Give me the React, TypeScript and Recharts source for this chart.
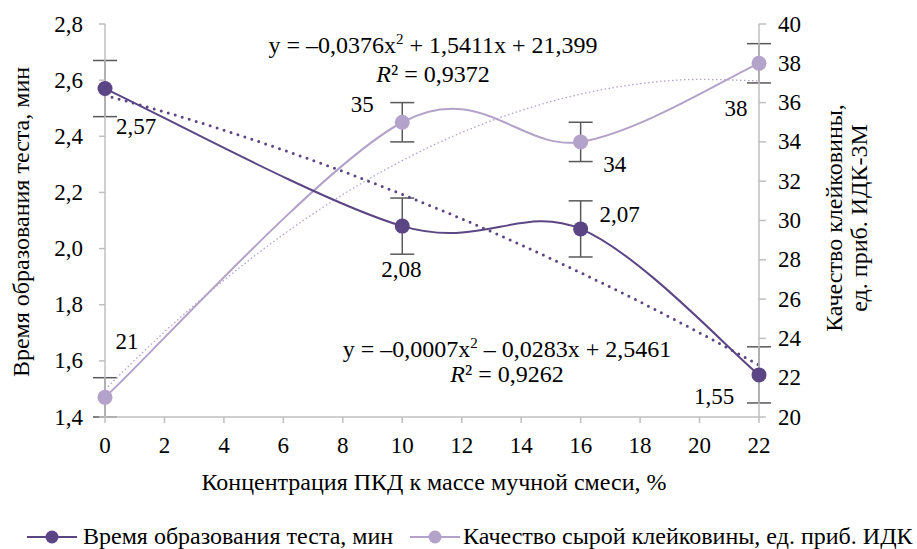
import React from "react";
import {
  ComposedChart,
  Line,
  XAxis,
  YAxis,
  ErrorBar,
  LabelList,
} from "recharts";

// concentration of ПКД, % (x values of the measured points)
const concentrations = [0, 10, 16, 22];
// dough formation time, min (left axis)
const doughTime = [2.57, 2.08, 2.07, 1.55];
const doughTimeErr = [0.1, 0.1, 0.1, 0.1];
// raw gluten quality, ИДК units (right axis)
const glutenQuality = [21, 35, 34, 38];
const glutenQualityErr = [1, 1, 1, 1];

// polynomial trend lines
const trendX = [0, 2, 4, 6, 8, 10, 12, 14, 16, 18, 20, 22];
const doughTimeTrend = [2.546, 2.487, 2.422, 2.351, 2.275, 2.193, 2.106, 2.013, 1.914, 1.81, 1.7, 1.585];
const glutenTrend = [21.4, 24.33, 26.96, 29.29, 31.32, 33.05, 34.48, 35.6, 36.43, 36.96, 37.18, 37.1];

const xTicks = [0, 2, 4, 6, 8, 10, 12, 14, 16, 18, 20, 22];
const leftTicks = [1.4, 1.6, 1.8, 2.0, 2.2, 2.4, 2.6, 2.8];
const rightTicks = [20, 22, 24, 26, 28, 30, 32, 34, 36, 38, 40];

const DARK = "#5b4584";
const LIGHT = "#b3a2c9";
const AXIS = "#bfbfbf";
const ERR = "#595959";
const FONT = "Liberation Serif, Times New Roman, serif";

// label offsets (dx, dy from the point) as placed in the original
const darkLabelPos = [[31, 38], [-1, 43], [39, -14], [-45, 22]];
const lightLabelPos = [[22, -56], [-40, -18], [34, 23], [-23, 45]];

const darkData = concentrations.map((x, i) => ({ x, y: doughTime[i], err: doughTimeErr[i] }));
const lightData = concentrations.map((x, i) => ({ x, y: glutenQuality[i], err: glutenQualityErr[i] }));
const darkTrendData = trendX.map((x, i) => ({ x, y: doughTimeTrend[i] }));
const lightTrendData = trendX.map((x, i) => ({ x, y: glutenTrend[i] }));

const comma = (v: number, d: number) => v.toFixed(d).replace(".", ",");

// Excel-like smoothed line (uniform Catmull-Rom as bezier)
function excelSmooth(context: any) {
  let xs: number[] = [];
  let ys: number[] = [];
  return {
    areaStart() {},
    areaEnd() {},
    lineStart() {
      xs = [];
      ys = [];
    },
    lineEnd() {
      const n = xs.length;
      if (!n) return;
      context.moveTo(xs[0], ys[0]);
      for (let i = 0; i < n - 1; i++) {
        const p = Math.max(i - 1, 0);
        const q = Math.min(i + 2, n - 1);
        context.bezierCurveTo(
          xs[i] + (xs[i + 1] - xs[p]) / 6,
          ys[i] + (ys[i + 1] - ys[p]) / 6,
          xs[i + 1] - (xs[q] - xs[i]) / 6,
          ys[i + 1] - (ys[q] - ys[i]) / 6,
          xs[i + 1],
          ys[i + 1]
        );
      }
    },
    point(x: number, y: number) {
      xs.push(+x);
      ys.push(+y);
    },
  };
}

function T({ x, y, anchor = "start", rotate = false, baseline, size = 24, children }: any) {
  return (
    <text
      transform={`translate(${x},${y})${rotate ? " rotate(-90)" : ""}`}
      textAnchor={anchor}
      dominantBaseline={baseline}
      fontFamily={FONT}
      fontSize={size}
      fill="#000"
    >
      {children}
    </text>
  );
}

function makeLabel(pos: number[][], digits: number) {
  return (props: any) => {
    const { x, y, value, index } = props;
    const [dx, dy] = pos[index] || [0, 0];
    return (
      <T x={x + dx} y={y + dy} anchor="middle" baseline="central" size={23}>
        {comma(value, digits)}
      </T>
    );
  };
}

const XTick = (p: any) => (
  <T x={p.x} y={p.y + 15} anchor="middle" size={23}>
    {p.payload.value}
  </T>
);
const LeftTick = (p: any) => (
  <T x={p.x} y={p.y + 7.5} anchor="end" size={23}>
    {comma(p.payload.value, 1)}
  </T>
);
const RightTick = (p: any) => (
  <T x={p.x} y={p.y + 7.5} anchor="start" size={23}>
    {p.payload.value}
  </T>
);

function Overlay() {
  return (
    <svg
      width={917}
      height={549}
      style={{ position: "absolute", left: 0, top: 0, pointerEvents: "none" }}
    >
      {/* axis titles */}
      <T x={29} y={222} anchor="middle" rotate>
        Время образования теста, мин
      </T>
      <T x={842} y={218} anchor="middle" rotate>
        Качество клейковины,
      </T>
      <T x={867} y={218} anchor="middle" rotate>
        ед. приб. ИДК-3М
      </T>
      <T x={434} y={490} anchor="middle">
        Концентрация ПКД к массе мучной смеси, %
      </T>

      {/* trend equations */}
      <T x={433} y={53} anchor="middle">
        y = –0,0376x<tspan fontSize={15} dy={-9}>2</tspan>
        <tspan dy={9}> + 1,5411x + 21,399</tspan>
      </T>
      <T x={433} y={82} anchor="middle">
        <tspan fontStyle="italic">R</tspan>² = 0,9372
      </T>
      <T x={507} y={357} anchor="middle">
        y = –0,0007x<tspan fontSize={15} dy={-9}>2</tspan>
        <tspan dy={9}> – 0,0283x + 2,5461</tspan>
      </T>
      <T x={507} y={382} anchor="middle">
        <tspan fontStyle="italic">R</tspan>² = 0,9262
      </T>

      {/* legend */}
      <line x1={27} x2={77} y1={537} y2={537} stroke={DARK} strokeWidth={2} />
      <circle cx={52} cy={537} r={6.5} fill={DARK} />
      <T x={83} y={544}>
        Время образования теста, мин
      </T>
      <line x1={410} x2={460} y1={537} y2={537} stroke={LIGHT} strokeWidth={2} />
      <circle cx={435} cy={537} r={6.5} fill={LIGHT} />
      <T x={463} y={544}>
        Качество сырой клейковины, ед. приб. ИДК
      </T>
    </svg>
  );
}

export default function App() {
  return (
    <div
      style={{
        position: "absolute",
        left: 0,
        top: 0,
        width: 917,
        height: 549,
        background: "#fff",
        overflow: "hidden",
      }}
    >
      <ComposedChart width={917} height={549} margin={{ top: 24, right: 0, bottom: 92, left: 0 }}>
        <XAxis
          type="number"
          dataKey="x"
          domain={[0, 22]}
          ticks={xTicks}
          height={40}
          tickSize={6}
          tickMargin={15}
          tick={XTick}
          axisLine={{ stroke: AXIS, strokeWidth: 1.5 }}
          tickLine={{ stroke: AXIS, strokeWidth: 1.5 }}
          allowDuplicatedCategory={false}
        />
        <YAxis
          yAxisId="left"
          type="number"
          domain={[1.4, 2.8]}
          ticks={leftTicks}
          width={105}
          tickSize={6}
          tickMargin={16}
          tick={LeftTick}
          axisLine={{ stroke: AXIS, strokeWidth: 1.5 }}
          tickLine={{ stroke: AXIS, strokeWidth: 1.5 }}
          interval={0}
        />
        <YAxis
          yAxisId="right"
          orientation="right"
          type="number"
          domain={[20, 40]}
          ticks={rightTicks}
          width={158}
          tickSize={7}
          tickMargin={12}
          tick={RightTick}
          axisLine={{ stroke: AXIS, strokeWidth: 1.5 }}
          tickLine={{ stroke: AXIS, strokeWidth: 1.5 }}
          interval={0}
        />

        <Line
          yAxisId="right"
          data={lightData}
          dataKey="y"
          type={excelSmooth as any}
          stroke={LIGHT}
          strokeWidth={2}
          dot={{ r: 7.5, fill: LIGHT, stroke: LIGHT, strokeWidth: 0 }}
          activeDot={false}
          isAnimationActive={false}
        >
          <ErrorBar dataKey="err" direction="y" width={12} stroke={ERR} strokeWidth={1.5} />
          <LabelList dataKey="y" content={makeLabel(lightLabelPos, 0)} />
        </Line>
        <Line
          yAxisId="right"
          data={lightTrendData}
          dataKey="y"
          type="monotone"
          stroke={LIGHT}
          strokeWidth={1.3}
          strokeDasharray="1.5 2.5"
          dot={false}
          activeDot={false}
          isAnimationActive={false}
        />
        <Line
          yAxisId="left"
          data={darkData}
          dataKey="y"
          type={excelSmooth as any}
          stroke={DARK}
          strokeWidth={2}
          dot={{ r: 7.5, fill: DARK, stroke: DARK, strokeWidth: 0 }}
          activeDot={false}
          isAnimationActive={false}
        >
          <ErrorBar dataKey="err" direction="y" width={12} stroke={ERR} strokeWidth={1.5} />
          <LabelList dataKey="y" content={makeLabel(darkLabelPos, 2)} />
        </Line>
        <Line
          yAxisId="left"
          data={darkTrendData}
          dataKey="y"
          type="monotone"
          stroke={DARK}
          strokeWidth={3}
          strokeDasharray="0 7.3"
          strokeLinecap="round"
          dot={false}
          activeDot={false}
          isAnimationActive={false}
        />
      </ComposedChart>
      <Overlay />
    </div>
  );
}
